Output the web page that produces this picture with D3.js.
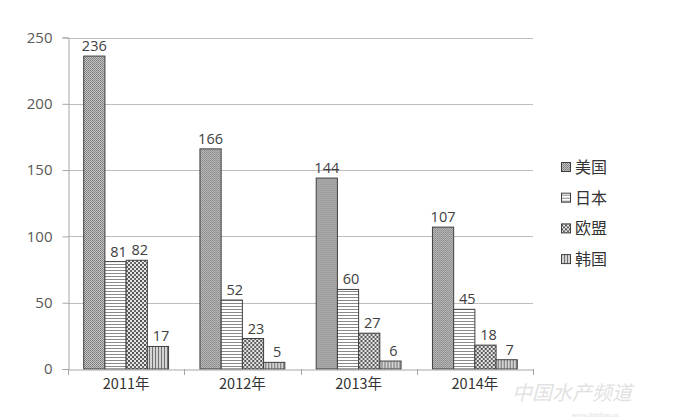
<!DOCTYPE html>
<html><head><meta charset="utf-8">
<script src="https://cdn.jsdelivr.net/npm/d3@7"></script>
<style>body{margin:0;background:#fff}</style>
</head><body>
<svg id="c" width="688" height="420"></svg>
<script>
const categories = ["2011年","2012年","2013年","2014年"];
const seriesNames = ["美国","日本","欧盟","韩国"];
const usValues = [236,166,144,107];
const japanValues = [81,52,60,45];
const euValues = [82,23,27,18];
const koreaValues = [17,5,6,7];
const yTicks = [0,50,100,150,200,250];
const seriesValues = [usValues, japanValues, euValues, koreaValues];

const svg = d3.select("#c");
const defs = svg.append("defs");
function pat(id, w, h, draw){
  const p = defs.append("pattern").attr("id",id).attr("patternUnits","userSpaceOnUse").attr("width",w).attr("height",h);
  draw(p);
}
pat("p0",2,2,p=>{
  p.append("rect").attr("width",2).attr("height",2).attr("fill","#c4c4c4");
  p.append("rect").attr("width",1).attr("height",1).attr("fill","#7a7a7a");
  p.append("rect").attr("x",1).attr("y",1).attr("width",1).attr("height",1).attr("fill","#8a8a8a");
});
pat("p1",3,3,p=>{
  p.append("rect").attr("width",3).attr("height",3).attr("fill","#fff");
  p.append("rect").attr("width",3).attr("height",1).attr("fill","#8a8a8a");
});
pat("p2",4,4,p=>{
  p.append("rect").attr("width",4).attr("height",4).attr("fill","#e6e6e6");
  p.append("rect").attr("width",2).attr("height",2).attr("fill","#555");
  p.append("rect").attr("x",2).attr("y",2).attr("width",2).attr("height",2).attr("fill","#666");
});
pat("p3",3,3,p=>{
  p.append("rect").attr("width",3).attr("height",3).attr("fill","#d4d4d4");
  p.append("rect").attr("width",1).attr("height",3).attr("fill","#707070");
});

const x0 = d3.scaleBand().domain(categories).range([68,533]).paddingInner(0).paddingOuter(0);
const x1 = d3.scaleBand().domain(seriesNames).range([0,x0.bandwidth()]).paddingOuter(0.74).paddingInner(0);
const y = d3.scaleLinear().domain([0,250]).range([369,37.5]);

// gridlines
svg.append("g").selectAll("line").data(yTicks.filter(d=>d>0)).join("line")
  .attr("x1",68).attr("x2",533).attr("y1",d=>Math.round(y(d))+0.5).attr("y2",d=>Math.round(y(d))+0.5)
  .attr("stroke","#bdbdbd").attr("stroke-width",1);

// y axis
const ya = svg.append("g").attr("transform","translate(68.5,0)")
  .call(d3.axisLeft(y).tickValues(yTicks).tickSize(6).tickPadding(10));
ya.select(".domain").attr("stroke","#a6a6a6");
ya.selectAll(".tick line").attr("stroke","#a6a6a6");
ya.selectAll("text").attr("fill","#595959").attr("font-family","Open Sans, sans-serif").attr("font-size",15);

// bars
const groups = svg.append("g").selectAll("g").data(categories).join("g")
  .attr("transform",d=>`translate(${x0(d)},0)`);
groups.each(function(cat,ci){
  const g = d3.select(this);
  seriesNames.forEach((s,si)=>{
    const v = seriesValues[si][ci];
    g.append("rect").attr("x",x1(s)).attr("y",y(v)).attr("width",x1.bandwidth()).attr("height",y(0)-y(v))
      .attr("fill",`url(#p${si})`).attr("stroke","#404040").attr("stroke-width",1);
    g.append("text").attr("x",x1(s)+x1.bandwidth()/2 + (si===0?0:3)).attr("y",y(v)-5)
      .attr("text-anchor","middle").attr("font-family","Open Sans, sans-serif").attr("font-size",14.5)
      .attr("fill","#404040").text(v);
  });
});

// x axis
const xa = svg.append("g").attr("transform","translate(0,369.5)")
  .call(d3.axisBottom(x0).tickSize(0).tickPadding(9));
xa.select(".domain").attr("stroke","#a6a6a6");
xa.selectAll("text").attr("fill","#333").attr("font-family","Noto Sans CJK SC, sans-serif").attr("font-size",14.5);
svg.append("g").selectAll("line").data([68,184.25,300.5,416.75,533]).join("line")
  .attr("x1",d=>Math.round(d)+0.5).attr("x2",d=>Math.round(d)+0.5).attr("y1",369).attr("y2",375)
  .attr("stroke","#a6a6a6");

// legend
const leg = svg.append("g").selectAll("g").data(seriesNames).join("g")
  .attr("transform",(d,i)=>`translate(561,${167+i*30.7})`);
leg.append("rect").attr("x",0.5).attr("y",-4.5).attr("width",9).attr("height",9)
  .attr("fill",(d,i)=>`url(#p${i})`).attr("stroke","#404040");
leg.append("text").attr("x",14).attr("y",6).attr("font-family","Noto Sans CJK SC, sans-serif")
  .attr("font-size",16).attr("fill","#333").text(d=>d);

// watermark
svg.append("text").attr("x",512).attr("y",400).attr("font-family","Noto Sans CJK SC, sans-serif")
  .attr("font-size",20).attr("font-style","italic").attr("fill","#e2e2e2").text("中国水产频道");
svg.append("text").attr("x",572).attr("y",417).attr("font-family","Liberation Serif, serif")
  .attr("font-size",7).attr("fill","#dcdcdc").text("www.fishfirst.cn");
</script>
</body></html>
